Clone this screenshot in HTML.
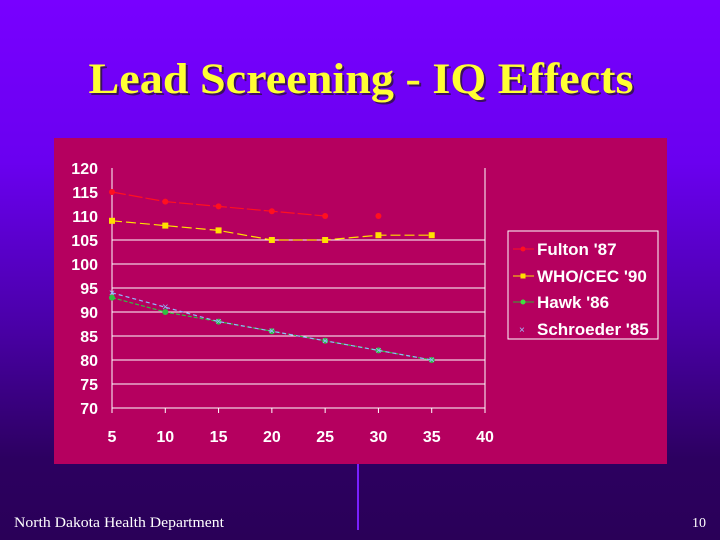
<!DOCTYPE html>
<html><head><meta charset="utf-8"><style>
html,body{margin:0;padding:0;width:720px;height:540px;overflow:hidden}
body{background:linear-gradient(180deg,#7800ff 0%,#6a00f0 30%,#4a00a8 60%,#2c0060 85%,#2a0058 100%);font-family:"Liberation Sans",sans-serif;position:relative}
</style></head><body>
<svg width="720" height="540" style="position:absolute;left:0;top:0">
<line x1="358" y1="440" x2="358" y2="530" stroke="#7a20ff" stroke-width="2"/>
<text x="361" y="93" text-anchor="middle" font-family="Liberation Serif,serif" font-weight="bold" font-size="43" fill="#3a1060" textLength="545" lengthAdjust="spacingAndGlyphs" transform="translate(2,2)">Lead Screening - IQ Effects</text>
<text x="361" y="93" text-anchor="middle" font-family="Liberation Serif,serif" font-weight="bold" font-size="43" fill="#ffff33" textLength="545" lengthAdjust="spacingAndGlyphs">Lead Screening - IQ Effects</text>
<rect x="54" y="138" width="613" height="326" fill="#b5005f"/>
<g id="plot"></g>
<rect x="508" y="231" width="150" height="108" fill="none" stroke="#ffffff" stroke-width="1"/>
<g font-weight="bold" font-size="17" fill="#fff">
<g><line x1="513" y1="249" x2="534" y2="249" stroke="#ff1020"/><circle cx="523" cy="249" r="2.5" fill="#ff1020"/><text x="537" y="255" fill="#fff">Fulton '87</text></g>
<g><line x1="513" y1="276" x2="534" y2="276" stroke="#ffe000"/><rect x="520.5" y="273.5" width="5" height="5" fill="#ffe000"/><text x="537" y="282" fill="#fff">WHO/CEC '90</text></g>
<g><line x1="513" y1="302" x2="534" y2="302" stroke="#30b030"/><circle cx="523" cy="302" r="2.5" fill="#40e040"/><text x="537" y="308" fill="#fff">Hawk '86</text></g>
<g><text x="519" y="333" font-size="10" font-weight="normal" fill="#a0c0ff">×</text><text x="537" y="335" fill="#fff">Schroeder '85</text></g>
</g>
<text x="14" y="527" font-family="Liberation Serif,serif" font-size="15" fill="#fff" textLength="210" lengthAdjust="spacingAndGlyphs">North Dakota Health Department</text>
<text x="706" y="527" text-anchor="end" font-family="Liberation Serif,serif" font-size="14" fill="#fff">10</text>
</svg>
<script>
const xCats=[5,10,15,20,25,30,35];
const xTicks=[5,10,15,20,25,30,35,40];
const yTicks=[70,75,80,85,90,95,100,105,110,115,120];
const gridVals=[75,80,85,90,95,100,105];
const fulton=[115,113,112,111,110,null,null];
const fultonExtra=[[30,110]];
const who=[109,108,107,105,105,106,106];
const hawk=[93,90,88,86,84,82,80];
const schroeder=[94,91,88,86,84,82,80];
const NS='http://www.w3.org/2000/svg';
const g=document.getElementById('plot');
const X=v=>112+(v-5)*(485-112)/35;
const Y=v=>408-(v-70)*(408-168)/50;
function el(t,a){const e=document.createElementNS(NS,t);for(const k in a)e.setAttribute(k,a[k]);g.appendChild(e);return e;}
gridVals.forEach(v=>{const e=el('line',{x1:X(5),x2:X(40),y1:Y(v),y2:Y(v),stroke:'#fff','stroke-width':1});

});
let a=el('line',{x1:X(5),x2:X(40),y1:Y(70),y2:Y(70),stroke:'#fff'});


a=el('line',{x1:X(5),x2:X(5),y1:Y(120),y2:Y(70)+4,stroke:'#fff'});


a=el('line',{x1:X(40),x2:X(40),y1:Y(120),y2:Y(70)+4,stroke:'#fff'});


xTicks.forEach(v=>{const t=el('line',{x1:X(v),x2:X(v),y1:Y(70),y2:Y(70)+5,stroke:'#fff'});


const l=el('text',{x:X(v),y:442,'text-anchor':'middle','font-weight':'bold','font-size':16,fill:'#fff'});l.textContent=v;

});
yTicks.forEach(v=>{const l=el('text',{x:98,y:Y(v)+6,'text-anchor':'end','font-weight':'bold','font-size':16,fill:'#fff'});l.textContent=v;

});
function series(vals,color,dash,marker,name){
 const pts=[];vals.forEach((v,i)=>{if(v!=null)pts.push([X(xCats[i]),Y(v)]);});
 const p=el('polyline',{points:pts.map(q=>q.join(',')).join(' '),fill:'none',stroke:color,'stroke-width':1.2,'stroke-dasharray':dash});
 
 
 pts.forEach(q=>mark(q,color,marker,name));
}
function mark(q,color,marker,name){
 let m;
 if(marker==='sq')m=el('rect',{x:q[0]-3,y:q[1]-3,width:6,height:6,fill:color});
 else if(marker==='x'){m=el('text',{x:q[0],y:q[1]+3.5,'text-anchor':'middle','font-size':11,fill:color});m.textContent='×';}
 else m=el('circle',{cx:q[0],cy:q[1],r:3,fill:color});
 
 
}
series(fulton,'#ff1020','14 3','c','fulton');
fultonExtra.forEach(d=>mark([X(d[0]),Y(d[1])],'#ff1020','c','fulton'));
series(who,'#ffe000','10 4','sq','who');
series(hawk,'#30c040','4 2','c','hawk');
series(schroeder,'#90b8ff','4 3','x','schroeder');
</script>
</body></html>
